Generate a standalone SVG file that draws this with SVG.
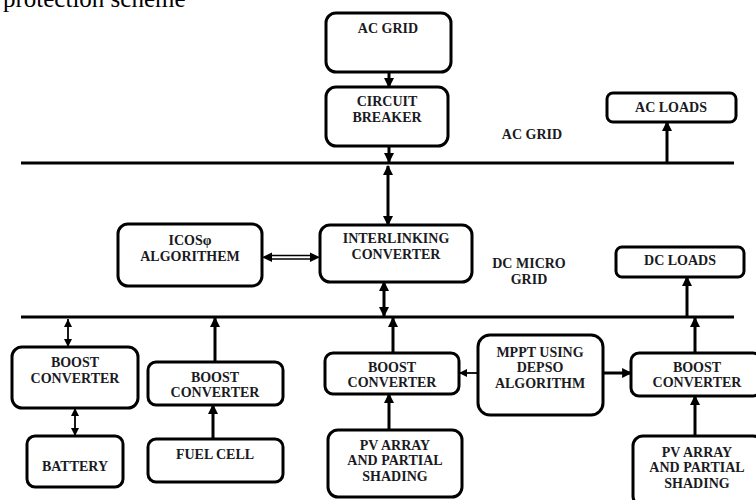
<svg xmlns="http://www.w3.org/2000/svg" width="756" height="500" viewBox="0 0 756 500">
<defs>
<style>
.box{fill:#fff;stroke:#000;stroke-width:3}
.t{font-family:"Liberation Serif","Times New Roman",serif;font-weight:bold;font-size:14px;fill:#1a1a22;text-anchor:middle}
.bus{stroke:#000;stroke-width:3.2;fill:none}
.c{stroke:#000;stroke-width:3;fill:none}
.thin{stroke:#000;stroke-width:1.8;fill:none}
</style>
<marker id="a" markerUnits="userSpaceOnUse" markerWidth="10" markerHeight="10" refX="8" refY="4.5" orient="auto-start-reverse" viewBox="0 0 9 9">
<path d="M0,0 L9,4.5 L0,9 Z" fill="#000"/>
</marker>
<marker id="s" markerUnits="userSpaceOnUse" markerWidth="8" markerHeight="8" refX="7" refY="3.5" orient="auto-start-reverse" viewBox="0 0 7 7">
<path d="M0,0 L7,3.5 L0,7 Z" fill="#000"/>
</marker>
</defs>
<rect width="756" height="500" fill="#fff"/>
<text x="3" y="7" font-family="Liberation Serif, Times New Roman, serif" font-size="25" fill="#000">protection scheme</text>

<g id="buses">
<line class="bus" x1="21" y1="163" x2="734" y2="163"/>
<line class="bus" x1="21" y1="317" x2="734" y2="317"/>
<text class="t" x="532" y="139">AC  GRID</text>
<text class="t" x="529" y="268">DC MICRO</text>
<text class="t" x="529" y="284">GRID</text>
</g>

<g id="ac-grid"><rect class="box" x="326" y="13" width="125" height="59" rx="10"/><text class="t" x="388" y="33">AC GRID</text></g>
<g id="circuit-breaker"><rect class="box" x="326" y="87" width="122" height="59" rx="10"/><text class="t" x="387" y="106">CIRCUIT</text><text class="t" x="387" y="122">BREAKER</text></g>
<g id="ac-loads"><rect class="box" x="607" y="93" width="129" height="29" rx="6"/><text class="t" x="671" y="112">AC LOADS</text></g>
<g id="interlinking"><rect class="box" x="320" y="225" width="152" height="57" rx="10"/><text class="t" x="396" y="243">INTERLINKING</text><text class="t" x="396" y="259">CONVERTER</text></g>
<g id="icos"><rect class="box" x="118" y="224" width="144" height="62" rx="10"/><text class="t" x="190" y="245">ICOSφ</text><text class="t" x="190" y="261">ALGORITHEM</text></g>
<g id="dc-loads"><rect class="box" x="616" y="247" width="128" height="30" rx="6"/><text class="t" x="680" y="265">DC LOADS</text></g>
<g id="boost-battery"><rect class="box" x="12" y="347" width="126" height="61" rx="10"/><text class="t" x="75" y="367">BOOST</text><text class="t" x="75" y="383">CONVERTER</text></g>
<g id="battery"><rect class="box" x="27" y="436" width="96" height="51" rx="8"/><text class="t" x="75" y="471">BATTERY</text></g>
<g id="boost-fuel"><rect class="box" x="148" y="362" width="135" height="43" rx="8"/><text class="t" x="215" y="382">BOOST</text><text class="t" x="215" y="397">CONVERTER</text></g>
<g id="fuel-cell"><rect class="box" x="148" y="439" width="135" height="43" rx="8"/><text class="t" x="215" y="459">FUEL CELL</text></g>
<g id="boost-pv1"><rect class="box" x="325" y="353" width="134" height="41" rx="8"/><text class="t" x="392" y="372">BOOST</text><text class="t" x="392" y="387">CONVERTER</text></g>
<g id="pv1"><rect class="box" x="328" y="430" width="134" height="67" rx="10"/><text class="t" x="395" y="450">PV ARRAY</text><text class="t" x="395" y="465">AND PARTIAL</text><text class="t" x="395" y="481">SHADING</text></g>
<g id="mppt"><rect class="box" x="478" y="335" width="125" height="80" rx="12"/><text class="t" x="540" y="357">MPPT USING</text><text class="t" x="540" y="372">DEPSO</text><text class="t" x="540" y="388">ALGORITHM</text></g>
<g id="boost-pv2"><rect class="box" x="631" y="353" width="130" height="43" rx="8"/><text class="t" x="697" y="372">BOOST</text><text class="t" x="697" y="387">CONVERTER</text></g>
<g id="pv2"><rect class="box" x="633" y="436" width="130" height="70" rx="10"/><text class="t" x="697" y="457">PV ARRAY</text><text class="t" x="697" y="472">AND PARTIAL</text><text class="t" x="697" y="488">SHADING</text></g>

<g id="connectors">
<line class="c" x1="389" y1="72" x2="389" y2="87" marker-end="url(#a)"/>
<line class="c" x1="389" y1="146" x2="389" y2="162" marker-end="url(#a)"/>
<line class="c" x1="667" y1="163" x2="667" y2="122" marker-end="url(#a)"/>
<line class="c" x1="388" y1="166" x2="388" y2="225" marker-start="url(#a)" marker-end="url(#a)"/>
<line class="c" x1="384" y1="316" x2="384" y2="282" marker-start="url(#a)" marker-end="url(#a)"/>
<line class="c" x1="393" y1="353" x2="393" y2="318" marker-end="url(#a)"/>
<line class="c" x1="687" y1="317" x2="687" y2="277" marker-end="url(#a)"/>
<line class="c" x1="695" y1="353" x2="695" y2="318" marker-end="url(#a)"/>
<line class="thin" x1="68" y1="319" x2="68" y2="347" marker-start="url(#s)" marker-end="url(#s)"/>
<line class="thin" x1="75" y1="408" x2="75" y2="436" marker-start="url(#s)" marker-end="url(#s)"/>
<line class="c" x1="215" y1="362" x2="215" y2="318" marker-end="url(#a)"/>
<line class="c" x1="213" y1="439" x2="213" y2="405" marker-end="url(#a)"/>
<line class="c" x1="389" y1="430" x2="389" y2="394" marker-end="url(#a)"/>
<line class="c" x1="695" y1="436" x2="695" y2="396" marker-end="url(#a)"/>
<line class="thin" x1="478" y1="373" x2="459" y2="373" marker-end="url(#s)"/>
<line class="c" x1="603" y1="373" x2="631" y2="373" marker-end="url(#a)"/>
<g id="icos-link">
<line stroke="#000" stroke-width="1.3" x1="268" y1="255.5" x2="314" y2="255.5"/>
<line stroke="#000" stroke-width="1.3" x1="268" y1="259" x2="314" y2="259"/>
<path d="M262,257.3 L272,252.5 L272,262 Z" fill="#000"/>
<path d="M320,257.3 L310,252.5 L310,262 Z" fill="#000"/>
</g>
</g>
</svg>
